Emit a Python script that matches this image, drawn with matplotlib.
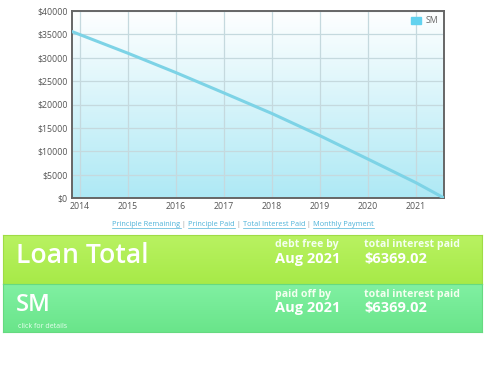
import numpy as np
import matplotlib as mpl
import matplotlib.pyplot as plt
from matplotlib.colors import LinearSegmentedColormap
from matplotlib.patches import Rectangle

mpl.rcParams['font.family'] = ['Open Sans', 'DejaVu Sans']

# principle remaining (decimal years)
years = [2013.83, 2015, 2016, 2017, 2018, 2019, 2020, 2021, 2021.58]
remaining = [35600, 30950, 26800, 22450, 18050, 13300, 8300, 3250, 0]
series_name = 'SM'

x_ticks = list(range(2014, 2022))
y_ticks = list(range(0, 40001, 5000))
links = ['Principle Remaining', 'Principle Paid', 'Total Interest Paid', 'Monthly Payment']

W, H = 487, 366
fig = plt.figure(figsize=(W / 100, H / 100), dpi=100)


def px(x, y):
    """ pixel position -> figure fraction """
    return x / W, 1 - y / H


## Chart
ax = fig.add_axes([72 / W, 1 - 198 / H, (444 - 72) / W, (198 - 11) / H])
grad = LinearSegmentedColormap.from_list('bg', ['#ffffff', '#aee9f5'])
ax.imshow(np.linspace(0, 1, 256).reshape(-1, 1), cmap=grad, aspect='auto',
          extent=[years[0], years[-1], 0, 40000], origin='upper', zorder=0)
ax.plot(years, remaining, color='#7dd3e6', lw=2.2, zorder=3,
        solid_capstyle='round')
ax.set_xlim(years[0], years[-1])
ax.set_ylim(0, 40000)
ax.set_xticks(x_ticks)
ax.set_yticks(y_ticks)
ax.set_yticklabels(['$%d' % v for v in y_ticks])
ax.grid(True, color='#c5d9de', lw=0.9, zorder=1)
ax.set_axisbelow(True)
ax.tick_params(length=0, labelsize=6.3, colors='#555555', pad=3)
for s in ax.spines.values():
    s.set_color('#666666')
    s.set_linewidth(1.4)

## Legend
fig.patches.append(Rectangle(px(411, 24), 10 / W, 7 / H, transform=fig.transFigure,
                             color='#62d2ef', zorder=5))
fig.text(*px(426, 20.5), series_name, fontsize=6.3, color='#666666', va='center')

## Links row, pieces placed one after another and centred
renderer = fig.canvas.get_renderer()
pieces = []
for i, name in enumerate(links):
    if i:
        pieces.append((' | ', '#999999', False))
    pieces.append((name, '#4fb3d9', True))
widths = []
for txt, _, _ in pieces:
    tmp = fig.text(0, 0, txt.replace(' ', '\u00a0'), fontsize=5.3)
    widths.append(tmp.get_window_extent(renderer).width)
    tmp.remove()
x = 243 - sum(widths) / 2
ly = 224
for (txt, col, under), w in zip(pieces, widths):
    fig.text(*px(x, ly), txt.replace(' ', '\u00a0'), fontsize=5.3, color=col,
             va='center')
    if under:
        fig.add_artist(plt.Line2D([x / W, (x + w) / W], [1 - (ly + 4) / H] * 2,
                                  color=col, lw=0.5, transform=fig.transFigure))
    x += w

## Summary boxes
boxes = [
    (235, 284, '#b9f262', '#a7ea48', '#9fdc45', 'Loan Total', 19.2, 'debt free by'),
    (284, 332, '#80f0a2', '#6ae58a', '#66da80', 'SM', 17, 'paid off by'),
]
for top, bot, c1, c2, edge, title, tsize, lbl in boxes:
    bax = fig.add_axes([3 / W, 1 - bot / H, 479 / W, (bot - top) / H])
    bcm = LinearSegmentedColormap.from_list('b', [c1, c2])
    bax.imshow(np.linspace(0, 1, 64).reshape(-1, 1), cmap=bcm, aspect='auto',
               extent=[0, 1, 0, 1], origin='upper')
    bax.set_xticks([]); bax.set_yticks([])
    for s in bax.spines.values():
        s.set_color(edge)
        s.set_linewidth(0.8)
    fig.text(*px(16, top + 21), title, fontsize=tsize, color='white',
             weight='semibold', va='center')
    fig.text(*px(275, top + 10), lbl, fontsize=7.6, color='#f4fff0', weight='bold',
             va='center')
    fig.text(*px(275, top + 24), 'Aug 2021', fontsize=10.5, color='white',
             weight='bold', va='center')
    fig.text(*px(364, top + 10), 'total interest paid', fontsize=7.6,
             color='#f4fff0', weight='bold', va='center')
    fig.text(*px(364, top + 24), '$6369.02', fontsize=10.5, color='white',
             weight='bold', va='center')

fig.text(*px(18, 327), 'click for details', fontsize=5, color='#e8fff0', va='center')

fig.savefig('out.png', dpi=100)
